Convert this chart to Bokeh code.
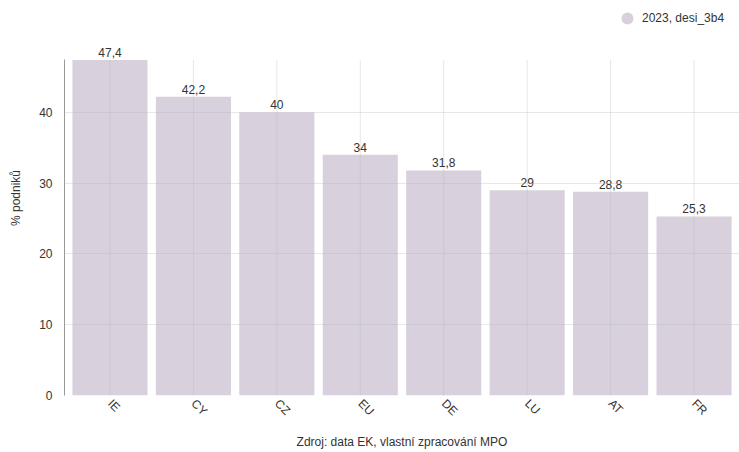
import math
from bokeh.plotting import figure
from bokeh.models import ColumnDataSource, LabelSet, Legend, LegendItem, FactorRange, Range1d
from bokeh.core.properties import value
from bokeh.embed import file_html
from bokeh.resources import INLINE

countries = ["IE", "CY", "CZ", "EU", "DE", "LU", "AT", "FR"]
values = [47.4, 42.2, 40, 34, 31.8, 29, 28.8, 25.3]
y_ticks = [0, 10, 20, 30, 40]
y_max = 47.4
series_name = "2023, desi_3b4"
y_title = "% podniků"
x_title = "Zdroj: data EK, vlastní zpracování MPO"

labels = [("%g" % v).replace(".", ",") for v in values]
src = ColumnDataSource(dict(x=countries, top=values, lab=labels,
                            g0=[0] * len(countries), g1=[y_max] * len(countries)))

FONT = "Liberation Sans"
BAR = "#d8d0dc"
TXT = "#333333"

p = figure(x_range=FactorRange(*countries, range_padding=0.045, range_padding_units="absolute"),
           y_range=Range1d(0, 55.8),
           width=739, height=452, output_backend="svg", toolbar_location=None,
           min_border_left=64, min_border_right=0, min_border_top=0, min_border_bottom=55)
p.outline_line_color = None

p.vbar(x="x", top="top", width=0.9, source=src, fill_color=BAR, line_color=None)
# vertical grid lines at category centres, only up to the axis end
p.segment(x0="x", y0="g0", x1="x", y1="g1", source=src, line_color="#bbbbbb", line_alpha=0.35, line_width=1)

# legend marker: a hidden circle renderer (legend still draws its glyph)
r = p.scatter(x="x", y="top", source=src, marker="circle", size=12,
              fill_color=BAR, line_color=None, visible=False)
leg = Legend(items=[LegendItem(label=series_name, renderers=[r])], location=(548, 362),
             orientation="horizontal", label_text_font=FONT, label_text_font_size="12px",
             label_text_color=TXT, glyph_width=30, glyph_height=30, label_standoff=0,
             label_height=12, padding=0, margin=0, spacing=0, border_line_color=None,
             background_fill_alpha=0, click_policy="none")
p.add_layout(leg)

ls = LabelSet(x="x", y="top", text="lab", source=src, text_align="center", text_baseline="bottom",
              y_offset=3, text_font=value(FONT), text_font_size=value("12px"), text_color=TXT)
p.add_layout(ls)

p.xgrid.grid_line_color = None
p.ygrid.grid_line_color = "#bbbbbb"
p.ygrid.grid_line_alpha = 0.35
p.ygrid.level = "overlay"
p.yaxis.ticker = y_ticks
p.yaxis.bounds = (0, y_max)
p.yaxis.axis_line_color = "#999999"
p.yaxis.major_tick_line_color = None
p.yaxis.minor_tick_line_color = None
p.yaxis.major_label_text_font = FONT
p.yaxis.major_label_text_font_size = "12px"
p.yaxis.major_label_text_color = TXT
p.yaxis.major_label_standoff = 6
p.yaxis.axis_label = y_title
p.yaxis.axis_label_text_font = FONT
p.yaxis.axis_label_text_font_size = "12px"
p.yaxis.axis_label_text_font_style = "normal"
p.yaxis.axis_label_text_color = TXT
p.yaxis.axis_label_standoff = 13

p.xaxis.axis_line_color = None
p.xaxis.major_tick_line_color = None
p.xaxis.minor_tick_line_color = None
p.xaxis.major_label_orientation = -math.pi / 4
p.xaxis.major_label_text_font = FONT
p.xaxis.major_label_text_font_size = "12px"
p.xaxis.major_label_text_color = TXT
p.xaxis.major_label_standoff = 0
p.xaxis.axis_label = x_title
p.xaxis.axis_label_text_font = FONT
p.xaxis.axis_label_text_font_size = "12px"
p.xaxis.axis_label_text_font_style = "normal"
p.xaxis.axis_label_text_color = TXT
p.xaxis.axis_label_standoff = 9

open("out.html", "w").write(file_html(p, INLINE))
